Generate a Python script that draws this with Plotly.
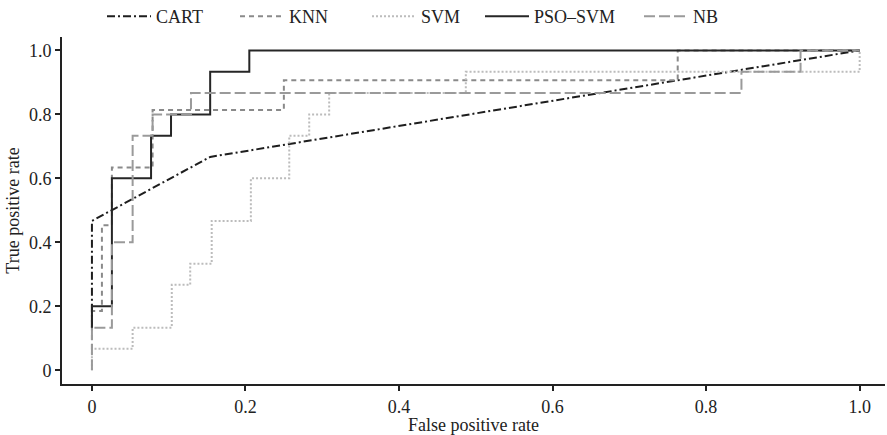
import plotly.graph_objects as go

# ROC curve data (FPR, TPR)
cart_fpr = [0, 0, 0.154, 1.0]
cart_tpr = [0.133, 0.467, 0.667, 1.0]

knn_fpr = [0, 0, 0.013, 0.013, 0.026, 0.026, 0.079, 0.079, 0.25, 0.25, 0.763, 0.763, 1.0]
knn_tpr = [0.067, 0.185, 0.185, 0.453, 0.453, 0.634, 0.634, 0.814, 0.814, 0.907, 0.907, 1.0, 1.0]

svm_fpr = [0, 0, 0.053, 0.053, 0.104, 0.104, 0.128, 0.128, 0.156, 0.156, 0.207, 0.207,
           0.257, 0.257, 0.283, 0.283, 0.309, 0.309, 0.487, 0.487, 1.0, 1.0]
svm_tpr = [0.0, 0.067, 0.067, 0.133, 0.133, 0.267, 0.267, 0.333, 0.333, 0.467, 0.467, 0.6,
           0.6, 0.733, 0.733, 0.8, 0.8, 0.867, 0.867, 0.933, 0.933, 1.0]

pso_fpr = [0, 0, 0.026, 0.026, 0.077, 0.077, 0.103, 0.103, 0.154, 0.154, 0.205, 0.205, 1.0]
pso_tpr = [0.133, 0.2, 0.2, 0.6, 0.6, 0.733, 0.733, 0.8, 0.8, 0.933, 0.933, 1.0, 1.0]

nb_fpr = [0, 0, 0.026, 0.026, 0.053, 0.053, 0.079, 0.079, 0.129, 0.129, 0.846, 0.846, 0.923, 0.923, 1.0]
nb_tpr = [0.0, 0.133, 0.133, 0.4, 0.4, 0.733, 0.733, 0.8, 0.8, 0.867, 0.867, 0.933, 0.933, 1.0, 1.0]

tick_vals = [0, 0.2, 0.4, 0.6, 0.8, 1.0]
tick_text = ["0", "0.2", "0.4", "0.6", "0.8", "1.0"]

FONT = "Liberation Serif"
FS = 18
ML, MR, MT, MB = 62, 2, 37, 48
W, H = 887, 435
PW = W - ML - MR

series = [
    ("CART", cart_fpr, cart_tpr, "#1e1e1e", "8px,3px,2px,3px", 107),
    ("KNN", knn_fpr, knn_tpr, "#8a8a8a", "5px,4px", 240),
    ("SVM", svm_fpr, svm_tpr, "#bcbcbc", "2px,2px", 372),
    ("PSO\u2013SVM", pso_fpr, pso_tpr, "#262626", "solid", 485),
    ("NB", nb_fpr, nb_tpr, "#9a9a9a", "11px,4px", 644),
]

fig = go.Figure()
legends = {}
for i, (name, xs, ys, col, dash, lx) in enumerate(series):
    key = "legend" if i == 0 else f"legend{i + 1}"
    fig.add_trace(go.Scatter(x=xs, y=ys, mode="lines", name=name, legend=key,
                             line=dict(color=col, width=2, dash=dash)))
    legends[key] = dict(orientation="h", x=(lx - 5 - ML) / PW, xanchor="left",
                        y=1 - 16.5 / H, yanchor="middle", yref="container",
                        font=dict(family=FONT, size=FS, color="#222"),
                        itemwidth=44, bgcolor="rgba(0,0,0,0)", borderwidth=0)

fig.update_layout(
    width=W, height=H,
    margin=dict(l=ML, r=MR, t=MT, b=MB),
    paper_bgcolor="white", plot_bgcolor="white",
    font=dict(family=FONT, size=FS, color="#222"),
    showlegend=True,
    xaxis=dict(range=[-0.039, 1.033], tickvals=tick_vals, ticktext=tick_text,
               showgrid=False, zeroline=False, showline=True, linecolor="#222", linewidth=2,
               ticks="outside", ticklen=5, tickwidth=1.5, tickcolor="#222",
               title=dict(text="False positive rate", standoff=4, font=dict(size=FS))),
    yaxis=dict(range=[-0.043, 1.042], tickvals=tick_vals, ticktext=tick_text,
               showgrid=False, zeroline=False, showline=True, linecolor="#222", linewidth=2,
               ticks="outside", ticklen=5, tickwidth=1.5, tickcolor="#222",
               title=dict(text="True positive rate", standoff=5, font=dict(size=FS))),
    **legends,
)

fig.write_html("out.html", config={"displayModeBar": False},
               post_script="document.body.style.margin='0';")
